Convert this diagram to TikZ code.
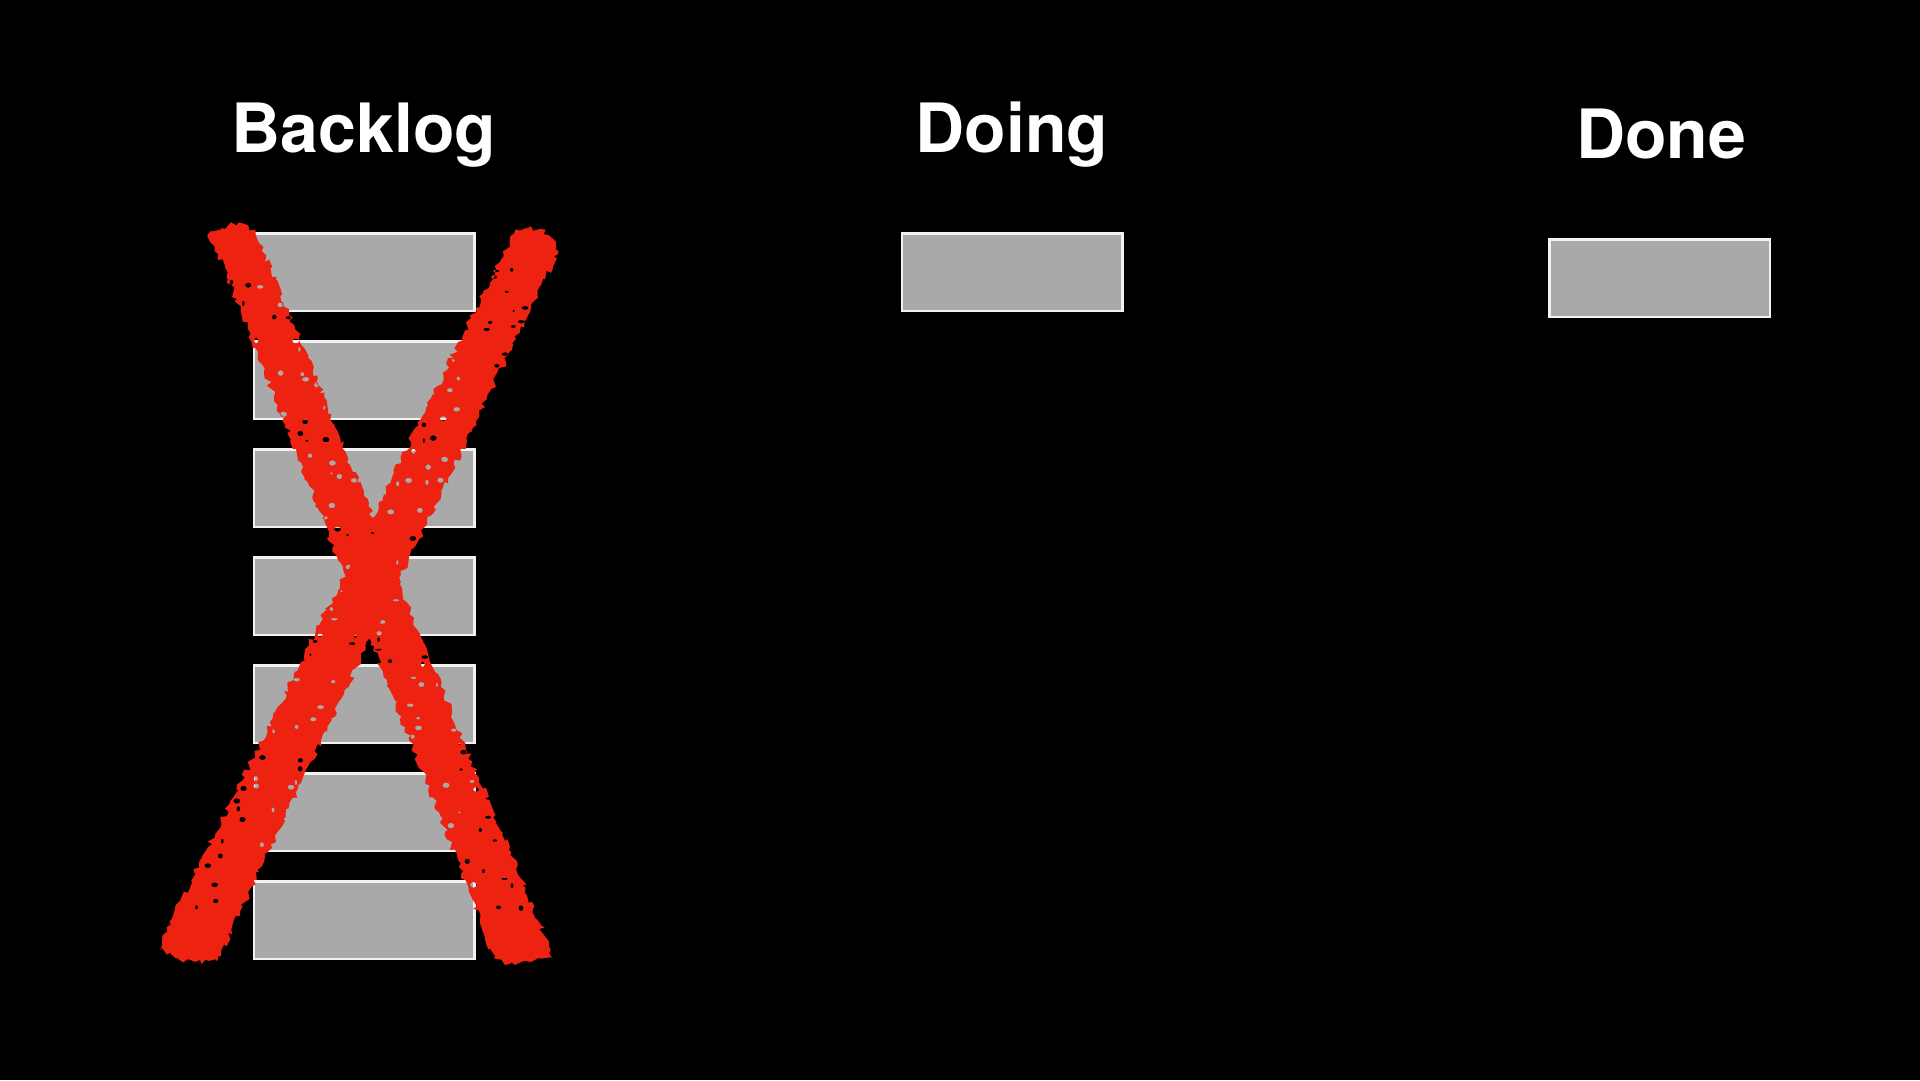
\documentclass[tikz,border=0pt]{standalone}
\usepackage{fontspec}
\setmainfont{TeX Gyre Heros}
\usetikzlibrary{decorations.pathmorphing}
\definecolor{xred}{RGB}{238,34,16}
\definecolor{cardgray}{RGB}{169,169,169}
\definecolor{cardedge}{RGB}{242,242,242}
\tikzset{
  card/.style={draw=cardedge, fill=cardgray, line width=2.5pt,
    minimum width=220.5pt, minimum height=77.5pt, inner sep=0pt},
  heading/.style={text=white, font=\fontsize{68}{80}\selectfont\bfseries,
    anchor=base, inner sep=0pt},
  brush/.style={decoration={random steps, segment length=4pt, amplitude=3pt}}
}
\begin{document}
\begin{tikzpicture}[x=1pt,y=-1pt]
\fill[black] (0,0) rectangle (1920,1080);
\useasboundingbox (0,0) rectangle (1920,1080);
% headings
\node[heading] (hBacklog) at (364,152.7) {Backlog};
\node[heading] (hDoing) at (1012,152.7) {Doing};
\node[heading] (hDone) at (1661,158.7) {Done};
% cards
\foreach \k in {0,...,6}
  \node[card] (b\k) at (364.2,{272.2+108*\k}) {};
\node[card] (doing1) at (1012,272.3) {};
\node[card] (done1) at (1659.8,278.3) {};
% red X
\pgfmathsetseed{42}
\fill[xred, even odd rule]
  decorate[brush]{
    (214.6,246.2) -- (250,335) -- (284.9,424.1) -- (320,512) -- (355.2,601.9)
    -- (390,690) -- (425.5,779.8) -- (460,868) -- (494,958.4)
    -- (505,965) -- (530,962) -- (552,958) -- (546,937.6)
    -- (509,850) -- (472,761.2) -- (436,673) -- (399.8,584.1) -- (364,496)
    -- (327.6,406.9) -- (291,318) -- (255.4,229.8)
    -- (238,223) -- (222,228) -- (208,234) -- (214.6,246.2)}
  foreach \i in {1,...,70} {
    ({235+285*(0.04+0.92*mod(\i*0.618034,1))+19.5*sin(mod(\i*\i,97)*47.3)},
     {238+710*(0.04+0.92*mod(\i*0.618034,1))-7.8*sin(mod(\i*\i,97)*47.3)})
     ellipse ({1.0+2.6*abs(cos(\i*71))} and {1.0+1.8*abs(sin(\i*113))})
  };
\pgfmathsetseed{7}
\fill[xred, even odd rule]
  decorate[brush]{
    (515.4,229.4) -- (471,318) -- (427.8,406) -- (384,494) -- (340.2,582.6)
    -- (296,671) -- (252.5,759.1) -- (208,847) -- (163,934.8)
    -- (160,950) -- (175,958) -- (195,962) -- (217,961.2)
    -- (259,872) -- (301,782.9) -- (344,694) -- (386.8,605.4) -- (430,516)
    -- (472.7,428) -- (516,339) -- (558.6,250.6)
    -- (552,238) -- (540,229) -- (528,228) -- (515.4,229.4)}
  foreach \i in {1,...,70} {
    ({537-347*(0.04+0.92*mod(\i*0.754877,1))+20.5*sin(mod(\i*\i,89)*61.7)},
     {240+708*(0.04+0.92*mod(\i*0.754877,1))+10*sin(mod(\i*\i,89)*61.7)})
     ellipse ({1.0+2.6*abs(cos(\i*53))} and {1.0+1.8*abs(sin(\i*89))})
  };
\end{tikzpicture}
\end{document}
